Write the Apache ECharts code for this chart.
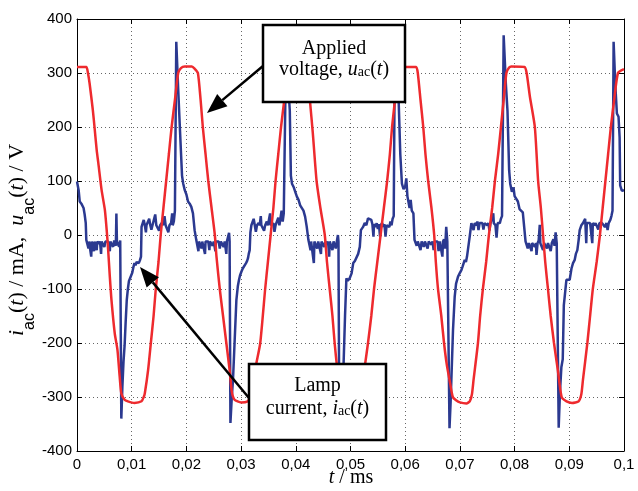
<!DOCTYPE html>
<html><head><meta charset="utf-8">
<script src="https://cdn.jsdelivr.net/npm/echarts@6/dist/echarts.min.js"></script>
<style>html,body{margin:0;padding:0;background:#fff}#c{width:638px;height:491px}</style>
</head><body><div id="c"></div>
<script>
// ---- data ----
const xTickLabels = ['0','0,01','0,02','0,03','0,04','0,05','0,06','0,07','0,08','0,09','0,1'];
const yTickLabels = ['-400','-300','-200','-100','0','100','200','300','400'];

// applied voltage u_ac(t) [t, V]
const voltage = [
[0,311],[0.0017,311],[0.0020,300],[0.0023,281],[0.0029,231],[0.0032,200],[0.0036,157],[0.0039,133],[0.0045,83],[0.0051,46],[0.0055,0],[0.0057,-28],[0.0060,-77],[0.0063,-120],[0.0069,-182],[0.0074,-213],[0.0078,-262],[0.0081,-293],[0.0087,-305],[0.0093,-308],[0.0105,-311],[0.0118,-308],[0.0122,-300],[0.0124,-293],[0.0130,-250],[0.0135,-200],[0.0140,-150],[0.0144,-100],[0.0149,-50],[0.0153,0],[0.0158,50],[0.0163,100],[0.0168,150],[0.0173,200],[0.0179,250],[0.0185,300],[0.0190,309],
[0.0197,312],[0.0210,312],[0.0215,308],[0.0221,300],[0.0226,250],[0.0230,200],[0.0235,150],[0.0240,100],[0.0246,50],[0.0252,0],[0.0255,-40],[0.0261,-100],[0.0267,-150],[0.0273,-200],[0.0279,-250],[0.0283,-290],[0.0288,-305],[0.0300,-310],[0.0312,-308],[0.0316,-300],[0.0322,-270],[0.0328,-237],[0.0335,-200],[0.0344,-100],[0.0349,-50],[0.0354,0],[0.0359,50],[0.0363,100],[0.0368,150],[0.0373,200],[0.0379,250],[0.0385,300],[0.0390,309],
[0.0396,311],[0.0412,312],[0.0418,305],[0.0422,290],[0.0426,247],[0.0431,190],[0.0438,100],[0.0445,50],[0.0453,0],[0.0457,-50],[0.0462,-100],[0.0467,-150],[0.0471,-200],[0.0476,-250],[0.0481,-290],[0.0487,-305],[0.0500,-310],[0.0513,-306],[0.0520,-290],[0.0527,-237],[0.0532,-200],[0.0538,-150],[0.0543,-100],[0.0549,-50],[0.0555,0],[0.0561,50],[0.0567,100],[0.0572,150],[0.0576,200],[0.0581,247],[0.0587,300],[0.0593,310],
[0.0599,311],[0.0620,311],[0.0623,300],[0.0628,250],[0.0633,200],[0.0637,150],[0.0642,100],[0.0648,50],[0.0653,0],[0.0656,-50],[0.0660,-100],[0.0666,-150],[0.0671,-200],[0.0676,-240],[0.0681,-268],[0.0687,-300],[0.0693,-306],[0.0700,-310],[0.0712,-312],[0.0718,-308],[0.0722,-295],[0.0725,-268],[0.0733,-200],[0.0737,-150],[0.0742,-100],[0.0748,-50],[0.0753,0],[0.0759,50],[0.0764,100],[0.0770,150],[0.0775,200],[0.0780,250],[0.0785,300],[0.0790,310],
[0.0794,312],[0.0818,311],[0.0822,300],[0.0828,256],[0.0837,200],[0.0843,100],[0.0848,50],[0.0852,0],[0.0856,-50],[0.0861,-100],[0.0866,-150],[0.0872,-200],[0.0879,-250],[0.0886,-300],[0.0895,-308],[0.0905,-311],[0.0917,-308],[0.0922,-295],[0.0925,-268],[0.0933,-200],[0.0938,-150],[0.0943,-100],[0.0950,-50],[0.0956,0],[0.0961,50],[0.0966,100],[0.0971,150],[0.0976,200],[0.0982,250],[0.0989,300],[0.1000,307]
];

// lamp current i_ac(t) [t, mA]
const current = [
[0,99],[0.0003,83],[0.0005,62],[0.0008,58],[0.0010,55],[0.0012,50],[0.0014,38],[0.0016,22],[0.0017,-9],
[0.0019,-12],[0.0021,-25],[0.0022,-12],[0.0024,-15],[0.0026,-40],[0.0027,-12],[0.0029,-14],[0.0031,-30],[0.0032,-12],[0.0034,-12],[0.0036,-28],[0.0037,-12],[0.0040,-16],[0.0042,-12],[0.0044,-35],[0.0045,-12],[0.0048,-12],[0.0050,-22],[0.0052,-12],[0.0055,-14],[0.0057,-12],[0.0060,-30],[0.0061,-12],[0.0064,-12],[0.0066,-22],[0.0068,-10],[0.0070,-8],[0.0071,-20],[0.0072,40],[0.0073,-12],[0.0075,-12],[0.0077,-22],[0.0079,-10],
[0.0080,-10],[0.0081,-340],[0.0083,-280],[0.0085,-235],[0.0087,-205],[0.0089,-160],[0.0091,-120],[0.0093,-100],[0.0095,-85],[0.0097,-80],[0.0099,-78],[0.0101,-70],[0.0103,-60],[0.0105,-52],[0.0107,-56],[0.0109,-50],[0.0111,-48],[0.0113,-52],[0.0115,-47],[0.0117,-40],[0.0118,15],
[0.0120,18],[0.0122,28],[0.0124,18],[0.0126,5],[0.0127,18],[0.0130,18],[0.0132,30],[0.0134,18],[0.0136,10],[0.0138,18],[0.0141,20],[0.0143,38],[0.0145,18],[0.0148,20],[0.0150,8],[0.0152,18],[0.0155,22],[0.0157,18],[0.0160,35],[0.0162,18],[0.0165,20],[0.0167,5],[0.0169,18],[0.0172,22],[0.0174,40],[0.0175,18],[0.0177,25],
[0.0179,45],[0.01815,358],[0.0185,270],[0.0188,200],[0.0192,110],[0.0194,96],[0.0197,83],[0.0200,75],[0.0203,62],[0.0206,58],[0.0209,52],[0.0212,40],[0.0215,9],[0.0218,-9],
[0.0220,-12],[0.0222,-30],[0.0223,-12],[0.0226,-14],[0.0228,-25],[0.0229,-12],[0.0232,-12],[0.0234,-35],[0.0235,-12],[0.0238,-15],[0.0240,-12],[0.0242,-28],[0.0243,-12],[0.0246,-12],[0.0248,-20],[0.0250,-12],[0.0253,-30],[0.0254,-12],[0.0257,-14],[0.0259,-12],[0.0261,-25],[0.0263,-12],[0.0266,-10],[0.0268,-22],[0.0270,-12],[0.0273,-35],[0.0274,-12],[0.0276,-12],[0.0278,4],[0.0279,-12],
[0.0280,-12],[0.02805,-348],[0.0283,-300],[0.02852,-268],[0.02883,-194],[0.02914,-120],[0.0294,-95],[0.02962,-83],[0.0298,-75],[0.03005,-68],[0.0303,-62],[0.03066,-59],[0.0309,-52],[0.0311,-48],[0.03126,-43],[0.0314,-35],[0.03157,-28],[0.0317,5],[0.03188,18],
[0.0321,18],[0.0323,30],[0.0325,18],[0.0327,6],[0.0329,18],[0.0332,22],[0.0334,18],[0.0336,35],[0.0337,18],[0.0340,18],[0.0342,8],[0.0344,18],[0.0347,25],[0.0349,18],[0.0351,18],[0.0353,40],[0.0354,18],[0.0357,15],[0.0359,22],[0.0361,6],[0.0363,18],[0.0366,18],[0.0368,32],[0.0370,18],[0.0372,20],[0.0374,45],[0.0376,25],
[0.0378,40],[0.0382,330],[0.0386,280],[0.0389,231],[0.0391,110],[0.0393,95],[0.0396,89],[0.0399,80],[0.0402,71],[0.0405,65],[0.0408,55],[0.0411,52],[0.0414,45],[0.0417,34],[0.0420,15],[0.0423,-9],
[0.0425,-12],[0.0427,-28],[0.0428,-12],[0.0431,-15],[0.0433,-52],[0.0434,-12],[0.0437,-12],[0.0439,-25],[0.0441,-12],[0.0444,-14],[0.0446,-35],[0.0447,-12],[0.0450,-12],[0.0452,-22],[0.0454,-12],[0.0457,-18],[0.0459,-12],[0.0461,-40],[0.0462,-12],[0.0465,-12],[0.0467,-28],[0.0469,-12],[0.0471,-10],[0.0473,-25],[0.0475,-12],[0.0477,0],[0.0478,-12],
[0.04795,-345],[0.0483,-300],[0.0487,-250],[0.0490,-150],[0.04925,-80],[0.0495,-85],[0.04985,-80],[0.0502,-71],[0.0505,-52],[0.0508,-48],[0.0511,-45],[0.0514,-35],[0.0517,-22],[0.0519,9],[0.0523,15],[0.0526,22],[0.0529,18],[0.0532,31],[0.0535,28],[0.0538,28],
[0.0540,20],[0.0542,-3],[0.0543,20],[0.0546,15],[0.0548,22],[0.0550,11],[0.0552,20],[0.0554,-3],[0.0555,18],[0.0558,22],[0.0560,15],[0.0562,20],[0.0564,-3],[0.0566,18],[0.0569,21],[0.0571,15],[0.0573,25],[0.0575,18],[0.0577,30],
[0.0579,35],[0.0581,340],[0.0585,330],[0.0588,250],[0.0591,150],[0.0594,95],[0.0597,85],[0.0600,90],[0.0602,105],[0.0604,72],[0.0606,70],[0.0608,50],[0.0610,65],[0.0612,45],[0.0615,40],[0.0617,-9],
[0.0619,-12],[0.0621,-20],[0.0623,-12],[0.0626,-15],[0.0628,-28],[0.0630,-12],[0.0632,-12],[0.0634,-22],[0.0636,-12],[0.0639,-14],[0.0641,-25],[0.0643,-12],[0.0646,-12],[0.0648,-18],[0.0650,-12],[0.0652,-28],[0.0654,-12],[0.0657,-15],[0.0659,-12],[0.0661,-30],[0.0663,-12],[0.0666,-10],[0.0668,-40],[0.0669,-12],[0.0671,-8],[0.0673,-25],[0.0675,15],[0.0677,-12],
[0.0679,-12],[0.0681,-358],[0.0683,-310],[0.06844,-268],[0.06874,-176],[0.06905,-114],[0.0693,-90],[0.06966,-77],[0.0700,-70],[0.07027,-65],[0.0705,-58],[0.07088,-46],[0.0711,-50],[0.0713,-40],[0.07148,-43],[0.07179,-3],[0.0721,22],
[0.0723,22],[0.0725,9],[0.0727,22],[0.0730,18],[0.0732,25],[0.0734,9],[0.0736,22],[0.0739,20],[0.0741,22],[0.0743,10],[0.0745,22],[0.0748,25],[0.0750,18],[0.0752,22],[0.0754,8],[0.0756,22],[0.0759,20],[0.0761,40],[0.0762,22],[0.0765,18],[0.0767,-5],[0.0769,22],[0.0771,25],[0.0773,22],[0.0775,30],
[0.0777,35],[0.0780,370],[0.0784,280],[0.0787,230],[0.0790,120],[0.0792,95],[0.0795,80],[0.0798,88],[0.0800,72],[0.0803,70],[0.0806,62],[0.0809,48],[0.0812,50],[0.0815,42],[0.0818,40],[0.0820,-12],
[0.0822,-15],[0.0824,-25],[0.0826,-15],[0.0829,-12],[0.0831,-30],[0.0832,-15],[0.0835,-15],[0.0837,-22],[0.0839,-15],[0.0840,-37],[0.0842,-15],[0.0844,-10],[0.0846,19],[0.0847,-15],[0.0850,-15],[0.0852,-28],[0.0854,-15],[0.0857,-12],[0.0859,-25],[0.0861,-15],[0.0864,-15],[0.0866,-30],[0.0868,-15],[0.0871,-8],[0.0873,-20],[0.0875,5],[0.0877,-15],
[0.0880,-15],[0.08806,-357],[0.0883,-290],[0.08855,-245],[0.0888,-230],[0.0890,-130],[0.08916,-114],[0.08947,-83],[0.0898,-80],[0.09007,-83],[0.0904,-62],[0.09068,-52],[0.09099,-46],[0.0912,-35],[0.09147,-28],[0.0917,-10],[0.0919,9],[0.0922,18],[0.0925,22],
[0.0927,22],[0.0929,30],[0.0931,-15],[0.0932,22],[0.0935,20],[0.0938,22],[0.0940,25],[0.0942,-15],[0.0943,22],[0.0946,18],[0.0948,22],[0.0951,22],[0.0953,10],[0.0955,22],[0.0958,20],[0.0960,22],[0.0963,25],[0.0965,15],[0.0968,22],[0.0970,9],[0.0972,22],[0.0975,28],[0.0977,35],
[0.0979,45],[0.0981,358],[0.0984,280],[0.0987,225],[0.0990,219],[0.0992,180],[0.0993,92],[0.0996,82],[0.1000,83]
];

// ---- text layout helpers ----
const SERIF = 'Liberation Serif', SANS = 'Liberation Sans';
const mctx = document.createElement('canvas').getContext('2d');
function fontStr(s){ return (s.it ? 'italic ' : '') + s.size + 'px "' + s.fam + '"'; }
function runText(segs, base, z){
  const ws = segs.map(s => { mctx.font = fontStr(s); return mctx.measureText(s.t).width; });
  let x = -ws.reduce((a,b)=>a+b,0)/2;
  return segs.map((s,i) => {
    const el = { type:'text', x: x, y: base + (s.dy||0) - 0.34*s.size, z: z, silent:true,
      style:{ text:s.t, font: fontStr(s), fill:'#000', align:'left', verticalAlign:'middle' } };
    x += ws[i];
    return el;
  });
}
function arrow(sx, sy, tx, ty, z){
  const dx = tx-sx, dy = ty-sy, L = Math.hypot(dx,dy), ux = dx/L, uy = dy/L;
  const hl = 20, hw = 8;
  const bx = tx-ux*hl, by = ty-uy*hl;
  return [
    { type:'line', z:z, silent:true, shape:{x1:sx,y1:sy,x2:bx,y2:by}, style:{stroke:'#000', lineWidth:2.5} },
    { type:'polygon', z:z, silent:true, shape:{points:[[tx,ty],[bx-uy*hw,by+ux*hw],[bx+uy*hw,by-ux*hw]]}, style:{fill:'#000'} }
  ];
}

const chart = echarts.init(document.getElementById('c'), null, {renderer:'canvas'});
const gridLine = {show:true, lineStyle:{color:'#666', width:1, type:[1,3]}};
const axLine = {show:true, onZero:false, lineStyle:{color:'#000', width:1}};
const tick = {show:true, inside:true, length:5, lineStyle:{color:'#000', width:1}};
const lblStyle = {color:'#000', fontFamily:SANS, fontSize:15};

const R = 20, S = 14, YR = 22, YS = 16;
const yTitle = runText([
  {t:'i', size:YR, fam:SERIF, it:true},
  {t:'ac', size:YS, fam:SANS, dy:10},
  {t:'(', size:YR, fam:SERIF},
  {t:'t', size:YR, fam:SERIF, it:true},
  {t:') / mA,  ', size:YR, fam:SERIF},
  {t:'u', size:YR, fam:SERIF, it:true},
  {t:'ac', size:YS, fam:SANS, dy:10},
  {t:'(', size:YR, fam:SERIF},
  {t:'t', size:YR, fam:SERIF, it:true},
  {t:') / V', size:YR, fam:SERIF}
], 0, 110);
const xTitle = runText([
  {t:'t', size:R, fam:SERIF, it:true},
  {t:' / ms', size:R, fam:SERIF}
], 0, 110);

const box1 = [
  { type:'rect', z:100, silent:true, shape:{x:263, y:25, width:142, height:77}, style:{fill:'#fff', stroke:'#000', lineWidth:2.5} },
  ...runText([{t:'Applied', size:R, fam:SERIF}], 56, 101).map(e=>{e.x+=334; return e;}),
  ...runText([
    {t:'voltage, ', size:R, fam:SERIF},
    {t:'u', size:R, fam:SERIF, it:true},
    {t:'ac', size:S, fam:SERIF},
    {t:'(', size:R, fam:SERIF},
    {t:'t', size:R, fam:SERIF, it:true},
    {t:')', size:R, fam:SERIF}
  ], 77, 101).map(e=>{e.x+=334; return e;})
];
const box2 = [
  { type:'rect', z:100, silent:true, shape:{x:249, y:364, width:137, height:76}, style:{fill:'#fff', stroke:'#000', lineWidth:2.5} },
  ...runText([{t:'Lamp', size:R, fam:SERIF}], 393, 101).map(e=>{e.x+=317.5; return e;}),
  ...runText([
    {t:'current, ', size:R, fam:SERIF},
    {t:'i', size:R, fam:SERIF, it:true},
    {t:'ac', size:S, fam:SERIF},
    {t:'(', size:R, fam:SERIF},
    {t:'t', size:R, fam:SERIF, it:true},
    {t:')', size:R, fam:SERIF}
  ], 416, 101).map(e=>{e.x+=317.5; return e;})
];

chart.setOption({
  animation:false,
  backgroundColor:'#fff',
  grid:{left:77, right:14, top:19, bottom:40, containLabel:false},
  xAxis:[
    {type:'value', min:0, max:0.1, interval:0.01, position:'bottom', axisLine:axLine, axisTick:tick,
     axisLabel:Object.assign({margin:6, formatter:v=>xTickLabels[Math.round(v/0.01)]}, lblStyle), splitLine:gridLine},
    {type:'value', min:0, max:0.1, interval:0.01, position:'top', axisLine:axLine, axisTick:tick,
     axisLabel:{show:false}, splitLine:{show:false}}
  ],
  yAxis:[
    {type:'value', min:-400, max:400, interval:100, position:'left', axisLine:axLine, axisTick:tick,
     axisLabel:Object.assign({margin:5, formatter:v=>yTickLabels[Math.round((v+400)/100)]}, lblStyle), splitLine:gridLine},
    {type:'value', min:-400, max:400, interval:100, position:'right', axisLine:axLine, axisTick:tick,
     axisLabel:{show:false}, splitLine:{show:false}}
  ],
  series:[
    {name:'current', type:'line', xAxisIndex:0, yAxisIndex:0, data:current, showSymbol:false, symbol:'none',
     lineStyle:{color:'#2B3990', width:2.5}, z:3},
    {name:'voltage', type:'line', xAxisIndex:0, yAxisIndex:0, data:voltage, showSymbol:false, symbol:'none', smooth:0.2,
     lineStyle:{color:'#EE2A2E', width:2.5}, z:4}
  ],
  graphic:[
    { type:'group', x:25, y:240, rotation:Math.PI/2, children:yTitle },
    { type:'group', x:351, y:485, children:xTitle },
    ...box1,
    ...box2,
    ...arrow(263, 66, 207, 113, 102),
    ...arrow(249, 398, 140, 267, 102)
  ]
});
</script></body></html>
